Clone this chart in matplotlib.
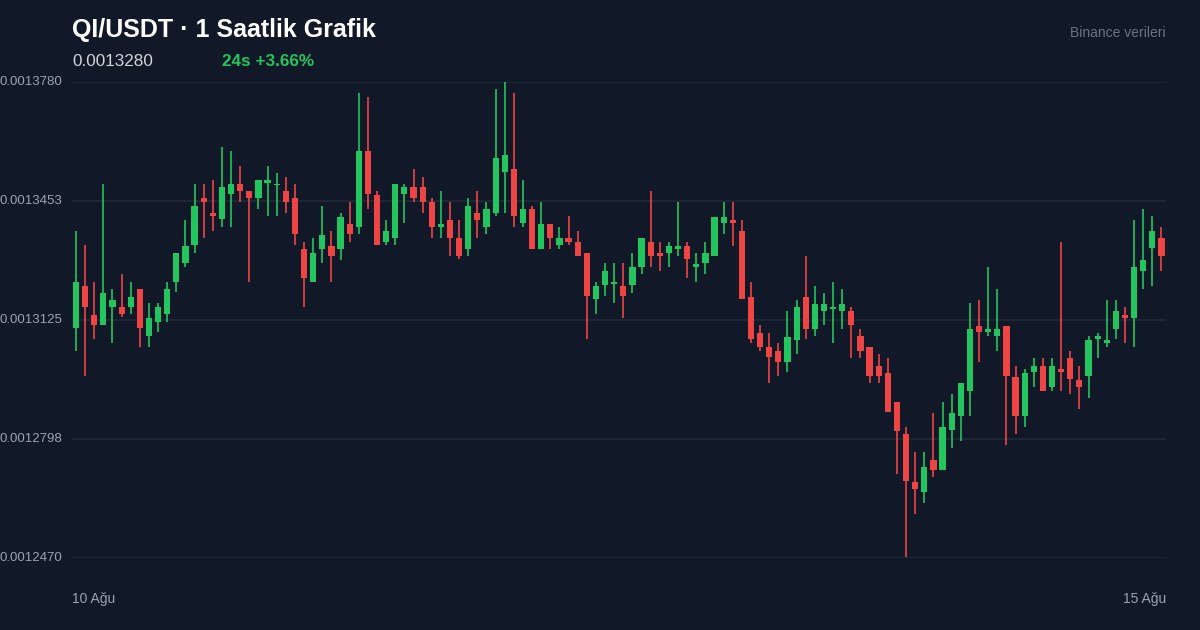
import matplotlib
matplotlib.use("Agg")
import matplotlib.pyplot as plt
import numpy as np

# prices in units of 1e-7 USDT
opens = [13103,13219,13139,13111,13161,13161,13161,13210,13081,13120,13142,13230,13282,13331,13461,13420,13403,13472,13499,13480,
         13461,13502,13496,13480,13461,13320,13230,13320,13329,13320,13389,13381,13590,13469,13340,13351,13472,13491,13491,13450,
         13381,13400,13351,13320,13420,13381,13420,13532,13541,13392,13430,13320,13389,13331,13351,13340,13309,13183,13221,13224,
         13219,13221,13271,13340,13309,13309,13320,13329,13271,13282,13301,13392,13400,13370,13188,13089,13051,13040,13009,13070,
         13188,13100,13150,13155,13150,13150,13081,13051,12998,12979,12899,12811,12679,12652,12740,12712,12822,12861,12930,13109,
         13092,13081,13109,12968,12861,12982,12998,12941,12990,13020,12960,12971,13073,13062,13100,13139,13131,13260,13323,13351]
closes = [13230,13161,13111,13199,13180,13142,13188,13103,13131,13161,13210,13309,13329,13439,13450,13411,13491,13499,13480,13461,
          13510,13510,13499,13450,13362,13241,13309,13359,13301,13408,13362,13590,13472,13331,13370,13499,13491,13461,13450,13381,
          13389,13351,13301,13439,13400,13430,13571,13579,13411,13430,13320,13389,13351,13351,13340,13301,13191,13219,13260,13230,
          13191,13271,13351,13301,13301,13329,13329,13293,13279,13309,13408,13408,13392,13183,13073,13051,13023,13009,13078,13161,
          13100,13169,13169,13161,13169,13111,13040,12971,12971,12872,12820,12682,12660,12720,12712,12831,12869,12952,13100,13092,
          13100,13100,12971,12861,12979,12998,12930,12998,12982,12963,12941,13070,13081,13070,13150,13131,13271,13290,13370,13301]
highs = [13370,13331,13230,13499,13210,13252,13230,13210,13172,13172,13230,13309,13400,13499,13499,13510,13601,13590,13549,13480,
         13510,13549,13530,13519,13499,13340,13351,13439,13370,13420,13450,13750,13739,13480,13400,13499,13499,13541,13519,13461,
         13480,13450,13400,13461,13480,13450,13761,13780,13750,13510,13439,13450,13389,13381,13411,13370,13309,13230,13282,13282,
         13282,13309,13351,13480,13340,13340,13450,13340,13309,13340,13408,13450,13450,13400,13230,13111,13089,13062,13150,13180,
         13301,13219,13199,13230,13210,13161,13100,13051,13031,13020,12899,12831,12762,12762,12869,12899,12921,12952,13172,13180,
         13271,13210,13109,12998,12990,13020,13020,13020,13340,13040,12998,13081,13089,13180,13180,13161,13400,13430,13411,13381]
lows = [13040,12971,13073,13111,13062,13133,13142,13051,13051,13092,13120,13202,13271,13309,13351,13370,13381,13381,13450,13230,
        13430,13411,13411,13420,13331,13161,13230,13282,13230,13290,13340,13362,13430,13331,13331,13331,13392,13450,13420,13351,
        13351,13301,13293,13301,13351,13362,13411,13420,13381,13381,13320,13320,13320,13320,13331,13301,13073,13142,13191,13172,
        13131,13199,13252,13271,13260,13271,13301,13241,13230,13252,13301,13362,13329,13183,13062,13040,12952,12971,12982,13031,
        13073,13081,13111,13062,13100,13020,13020,12952,12952,12872,12701,12473,12591,12621,12693,12712,12773,12792,12861,13009,
        13081,13040,12781,12811,12831,12941,12930,12930,12930,12921,12880,12910,13020,13051,13073,13062,13051,13210,13219,13260]
yticks = [12470, 12798, 13125, 13453, 13780]
ytick_labels = ["0.0012470", "0.0012798", "0.0013125", "0.0013453", "0.0013780"]
title = "QI/USDT · 1 Saatlik Grafik"
price_text = "0.0013280"
change_text = "24s +3.66%"
source_text = "Binance verileri"
x_labels = ["10 Ağu", "15 Ağu"]

BG = "#111827"; GREEN = "#22c55e"; RED = "#ef4444"; GRID = "#1f2937"; TXT = "#9ca3af"
plt.rcParams['font.family'] = ['Liberation Sans', 'DejaVu Sans']

fig = plt.figure(figsize=(12, 6.3), dpi=100, facecolor=BG)
ax = fig.add_axes([0.06, 0.1143, 0.9117, 0.7556], facecolor=BG)
o = np.array(opens); c = np.array(closes); h = np.array(highs); l = np.array(lows)
x = np.arange(len(o))
col = [GREEN if cc >= oo else RED for oo, cc in zip(o, c)]
ax.vlines(x, l, h, colors=col, linewidth=1.2, zorder=2)
body = np.maximum(np.abs(c - o), 3)
ax.bar(x, body, bottom=np.minimum(o, c), width=0.68, color=col, zorder=3, linewidth=0)
ax.set_xlim(-0.44, 119.5)
ax.set_ylim(12470, 13780)
ax.set_yticks(yticks)
ax.set_yticklabels([])
for v, s in zip(yticks, ytick_labels):
    ax.text(-0.0088, v, s, transform=ax.get_yaxis_transform(), ha='right', va='center', color=TXT, fontsize=9.5)
ax.grid(axis='y', color=GRID, linewidth=1.2)
ax.set_xticks([])
ax.tick_params(left=False)
for s in ax.spines.values():
    s.set_visible(False)
ax.set_axisbelow(True)

fig.text(72/1200, 1-30/630, title, color="white", fontsize=18, fontweight='bold', va='center', ha='left')
fig.text(72/1200, 1-61/630, price_text, color="#d1d5db", fontsize=12.3, va='center', ha='left')
fig.text(222/1200, 1-61/630, change_text, color=GREEN, fontsize=12.3, fontweight='bold', va='center', ha='left')
fig.text(1166/1200, 1-33/630, source_text, color="#6b7280", fontsize=10, va='center', ha='right')
fig.text(72/1200, 1-599/630, x_labels[0], color=TXT, fontsize=10, va='center', ha='left')
fig.text(1166/1200, 1-599/630, x_labels[1], color=TXT, fontsize=10, va='center', ha='right')

fig.savefig("out.png", dpi=100, facecolor=BG)
